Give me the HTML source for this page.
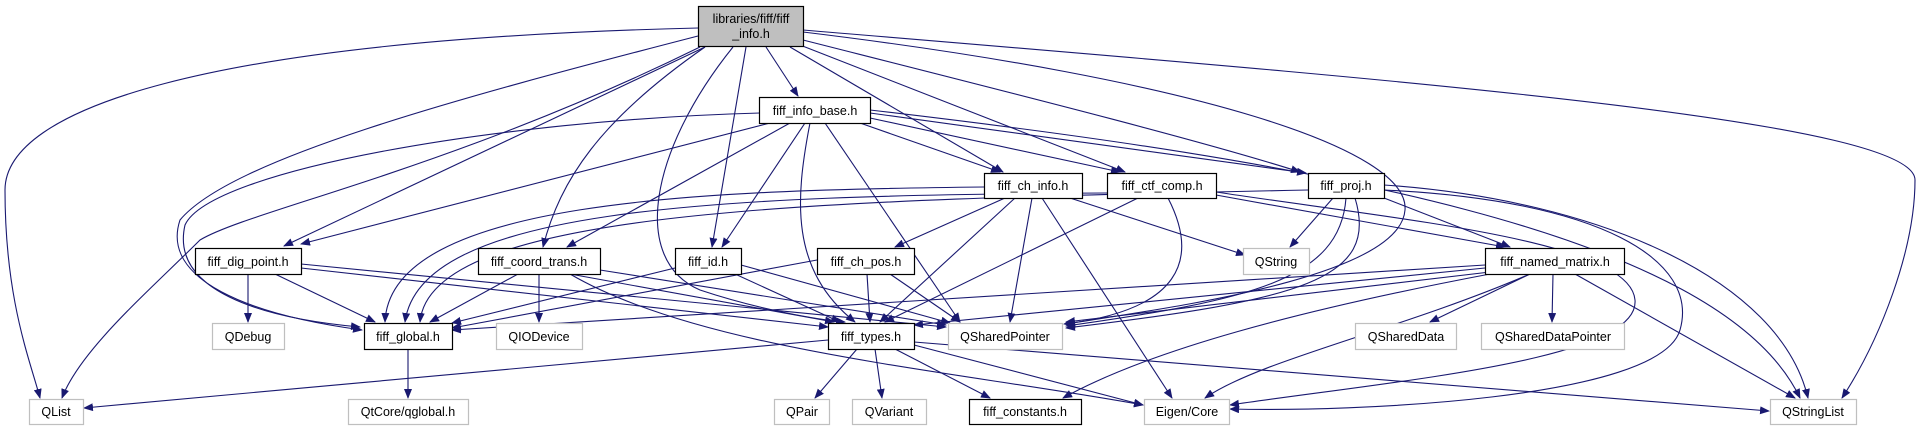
<!DOCTYPE html>
<html><head><meta charset="utf-8"><style>
html,body{margin:0;padding:0;background:#fff;width:1920px;height:427px;overflow:hidden}
svg text{font-family:"Liberation Sans",sans-serif;font-size:12.5px;fill:#000}
</style></head><body>
<svg width="1920" height="427" viewBox="0 0 1920 427" xmlns="http://www.w3.org/2000/svg">
<defs><marker id="a" markerWidth="10" markerHeight="8" refX="9" refY="4" orient="auto" markerUnits="userSpaceOnUse"><path d="M0,0 L10,4 L0,8 z" fill="#191970"/></marker></defs>
<g fill="none" stroke="#191970" stroke-width="1.1" marker-end="url(#a)">
<path d="M698,28 C200,40 5,110 5,190 C5,300 30,360 40,398"/>
<path d="M698,36 C450,100 230,160 180,220 C160,280 250,315 362,330"/>
<path d="M705,47 L284,246"/>
<path d="M700,47 C450,170 250,210 200,240 C150,290 80,350 62,398"/>
<path d="M766,47 L798,96"/>
<path d="M705,47 C600,120 560,180 543,247"/>
<path d="M746,47 L712,247"/>
<path d="M733,47 C650,150 630,260 700,290 C760,310 820,320 845,322"/>
<path d="M790,47 L1003,172"/>
<path d="M800,45 L1125,172"/>
<path d="M803,40 C1000,90 1200,140 1300,172"/>
<path d="M803,32 C1200,80 1410,150 1405,210 C1400,280 1150,310 1066,324"/>
<path d="M803,30 C1400,80 1915,120 1915,180 C1915,250 1880,340 1842,398"/>
<path d="M770,123 L301,244"/>
<path d="M760,113 C500,120 210,170 185,225 C170,290 260,318 360,327"/>
<path d="M790,123 L567,247"/>
<path d="M805,123 L722,247"/>
<path d="M810,123 C795,200 790,270 855,322"/>
<path d="M825,123 L960,322"/>
<path d="M860,123 L1000,172"/>
<path d="M870,118 L1120,172"/>
<path d="M870,113 L1306,173"/>
<path d="M870,110 C1300,160 1720,230 1800,398"/>
<path d="M984,187 C700,190 390,200 385,322"/>
<path d="M1005,198 L895,247"/>
<path d="M1015,198 L880,322"/>
<path d="M1032,198 L1010,322"/>
<path d="M1042,198 L1172,398"/>
<path d="M1070,198 L1245,255"/>
<path d="M1107,193 C700,195 420,210 405,322"/>
<path d="M1138,198 L885,322"/>
<path d="M1168,198 C1200,260 1180,310 1064,324"/>
<path d="M1216,195 L1505,247"/>
<path d="M1216,192 C1400,220 1630,240 1635,300 C1640,360 1400,380 1230,405"/>
<path d="M1308,190 C800,200 430,210 420,322"/>
<path d="M1333,198 L1290,247"/>
<path d="M1346,198 C1340,280 1250,300 1066,326"/>
<path d="M1355,198 C1380,280 1300,300 1066,328"/>
<path d="M1384,198 L1510,247"/>
<path d="M1384,190 C1600,200 1700,260 1680,330 C1660,400 1350,412 1230,409"/>
<path d="M1384,185 C1600,200 1780,280 1808,398"/>
<path d="M1485,265 L452,330"/>
<path d="M1485,268 L914,325"/>
<path d="M1490,272 L1066,322"/>
<path d="M1490,274 C1300,310 1150,350 1063,398"/>
<path d="M1530,274 C1400,330 1260,360 1205,398"/>
<path d="M1530,274 L1430,322"/>
<path d="M1553,274 L1552,322"/>
<path d="M1575,274 L1795,398"/>
<path d="M248,274 L248,322"/>
<path d="M275,274 L375,322"/>
<path d="M301,268 L828,327"/>
<path d="M301,264 L946,327"/>
<path d="M518,274 L430,322"/>
<path d="M539,274 L539,322"/>
<path d="M570,274 L834,322"/>
<path d="M600,270 L946,325"/>
<path d="M570,274 C700,350 950,370 1143,405"/>
<path d="M675,268 L452,323"/>
<path d="M735,274 L840,322"/>
<path d="M741,265 L950,323"/>
<path d="M817,260 L452,328"/>
<path d="M867,274 L870,322"/>
<path d="M890,274 L960,322"/>
<path d="M828,340 L84,408"/>
<path d="M857,349 L815,398"/>
<path d="M875,349 L882,398"/>
<path d="M895,349 L990,398"/>
<path d="M914,345 L1143,405"/>
<path d="M914,342 L1769,411"/>
<path d="M408,349 L408,398"/>
</g>
<g stroke-width="1.2">
<rect x="698.5" y="6.5" width="105" height="40" fill="#bfbfbf" stroke="#000"/>
<g fill="#fff" stroke="#000">
<rect x="759.5" y="97.5" width="111" height="26"/>
<rect x="984.5" y="173.5" width="98" height="25"/>
<rect x="1107.5" y="173.5" width="109" height="25"/>
<rect x="1308.5" y="173.5" width="76" height="25"/>
<rect x="195.5" y="248.5" width="106" height="26"/>
<rect x="478.5" y="248.5" width="122" height="26"/>
<rect x="675.5" y="248.5" width="66" height="26"/>
<rect x="817.5" y="248.5" width="97" height="26"/>
<rect x="1485.5" y="248.5" width="139" height="26"/>
<rect x="364.5" y="323.5" width="88" height="26"/>
<rect x="828.5" y="323.5" width="86" height="26"/>
<rect x="969.5" y="399.5" width="112" height="25"/>
</g>
<g fill="#fff" stroke="#bfbfbf">
<rect x="1243.5" y="248.5" width="66" height="26"/>
<rect x="212.5" y="323.5" width="72" height="26"/>
<rect x="496.5" y="323.5" width="86" height="26"/>
<rect x="948.5" y="323.5" width="114" height="26"/>
<rect x="1355.5" y="323.5" width="101" height="26"/>
<rect x="1481.5" y="323.5" width="143" height="26"/>
<rect x="29.5" y="399.5" width="54" height="25"/>
<rect x="348.5" y="399.5" width="120" height="25"/>
<rect x="774.5" y="399.5" width="55" height="25"/>
<rect x="852.5" y="399.5" width="74" height="25"/>
<rect x="1144.5" y="399.5" width="85" height="25"/>
<rect x="1770.5" y="399.5" width="86" height="25"/>
</g>
</g>
<g text-anchor="middle">
<text x="751" y="23">libraries/fiff/fiff</text>
<text x="751" y="38">_info.h</text>
<text x="815" y="115">fiff_info_base.h</text>
<text x="1033" y="190">fiff_ch_info.h</text>
<text x="1162" y="190">fiff_ctf_comp.h</text>
<text x="1346" y="190">fiff_proj.h</text>
<text x="248" y="266">fiff_dig_point.h</text>
<text x="539" y="266">fiff_coord_trans.h</text>
<text x="708" y="266">fiff_id.h</text>
<text x="866" y="266">fiff_ch_pos.h</text>
<text x="1555" y="266">fiff_named_matrix.h</text>
<text x="1276" y="266">QString</text>
<text x="248" y="341">QDebug</text>
<text x="408" y="341">fiff_global.h</text>
<text x="539" y="341">QIODevice</text>
<text x="871" y="341">fiff_types.h</text>
<text x="1005" y="341">QSharedPointer</text>
<text x="1406" y="341">QSharedData</text>
<text x="1553" y="341">QSharedDataPointer</text>
<text x="56" y="416">QList</text>
<text x="408" y="416">QtCore/qglobal.h</text>
<text x="802" y="416">QPair</text>
<text x="889" y="416">QVariant</text>
<text x="1025" y="416">fiff_constants.h</text>
<text x="1187" y="416">Eigen/Core</text>
<text x="1813" y="416">QStringList</text>
</g>
</svg>
</body></html>
